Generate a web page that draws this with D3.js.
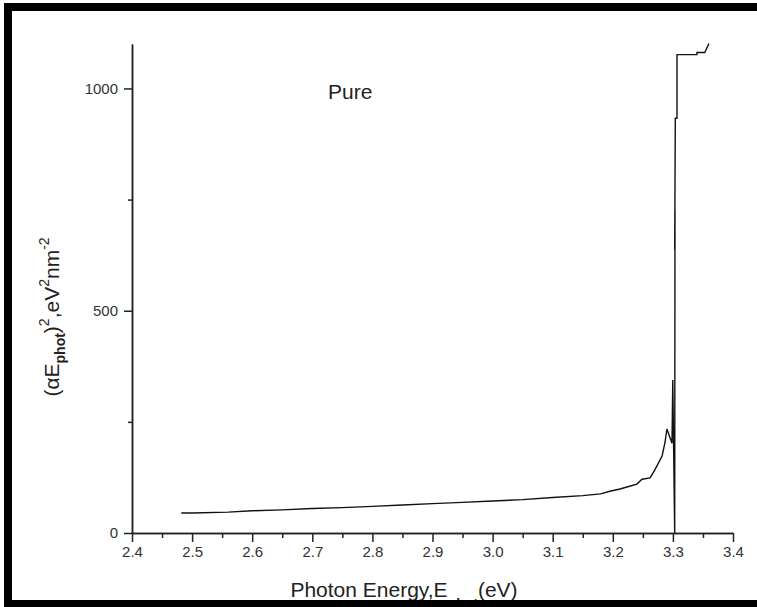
<!DOCTYPE html>
<html>
<head>
<meta charset="UTF-8">
<style>
  body { margin: 0; background: #fff; }
  svg { display: block; font-family: "Liberation Sans", Arial, sans-serif; }
  .axis path, .axis line { stroke: #222; stroke-width: 1.5; }
  .axis text { font-size: 15px; fill: #333; }
  .curve { fill: none; stroke: #111; stroke-width: 1.4; }
</style>
</head>
<body>
<svg id="chart" width="757" height="607"></svg>
<script src="https://d3js.org/d3.v7.min.js"></script>
<script>
// photon energy (eV)
const energy = [2.482, 2.50, 2.56, 2.60, 2.65, 2.70, 2.75, 2.80, 2.85, 2.90, 2.95, 3.00, 3.05, 3.10, 3.15,
  3.18, 3.195, 3.212, 3.225, 3.240, 3.2486, 3.262, 3.270, 3.282, 3.287, 3.290, 3.2985, 3.2998,
  3.3030, 3.3035, 3.3030, 3.3040, 3.3068, 3.3068, 3.340, 3.340, 3.353, 3.360];
// (alpha E)^2
const absorb = [45, 45, 47, 50, 52, 55, 57, 60, 63, 66, 69, 72, 75, 80, 84,
  88, 94, 99, 104, 110, 121, 124, 142, 173, 205, 234, 202, 344,
  0, 728, 638, 933, 933, 1076, 1076, 1081, 1081, 1101];
const xMajor = [2.4, 2.5, 2.6, 2.7, 2.8, 2.9, 3.0, 3.1, 3.2, 3.3, 3.4];
const xMinor = [2.45, 2.55, 2.65, 2.75, 2.85, 2.95, 3.05, 3.15, 3.25, 3.35];
const yMajor = [0, 500, 1000];
const yMinor = [250, 750];

const svg = d3.select('#chart');
const x = d3.scaleLinear().domain([2.4, 3.4]).range([132, 733]);
const y = d3.scaleLinear().domain([0, 1100]).range([533, 44]);

// axes
svg.append('g').attr('class', 'axis').attr('transform', 'translate(0,533)')
  .call(d3.axisBottom(x).tickValues(xMinor).tickSize(5).tickFormat('').tickSizeOuter(0));
svg.append('g').attr('class', 'axis').attr('transform', 'translate(0,533)')
  .call(d3.axisBottom(x).tickValues(xMajor).tickSize(9).tickPadding(4).tickFormat(d3.format('.1f')).tickSizeOuter(0));
svg.append('g').attr('class', 'axis').attr('transform', 'translate(132,0)')
  .call(d3.axisLeft(y).tickValues(yMinor).tickSize(4).tickFormat('').tickSizeOuter(0));
svg.append('g').attr('class', 'axis').attr('transform', 'translate(132,0)')
  .call(d3.axisLeft(y).tickValues(yMajor).tickSize(8).tickPadding(6).tickFormat(d3.format('d')).tickSizeOuter(0));

// curve
const pts = energy.map((e, i) => [e, absorb[i]]);
svg.append('path').attr('class', 'curve')
  .attr('d', d3.line().x(d => x(d[0])).y(d => y(d[1]))(pts));

// labels
svg.append('text').attr('x', 328).attr('y', 99).attr('font-size', 21).attr('fill', '#222').text('Pure');

const xt = svg.append('text').attr('x', 404).attr('y', 597).attr('text-anchor', 'middle')
  .attr('font-size', 21).attr('fill', '#222');
xt.append('tspan').text('Photon Energy,E');
xt.append('tspan').attr('dy', 12).attr('font-size', 14).attr('font-weight', 'bold').text('phot');
xt.append('tspan').attr('dy', -12).text('(eV)');

const yt = svg.append('text').attr('transform', 'translate(59,317) rotate(-90)')
  .attr('text-anchor', 'middle').attr('font-size', 21).attr('fill', '#222');
yt.append('tspan').text('(αE');
yt.append('tspan').attr('dy', 6).attr('font-size', 14).attr('font-weight', 'bold').text('phot');
yt.append('tspan').attr('dy', -6).text(')');
yt.append('tspan').attr('dy', -10).attr('font-size', 14).text('2');
yt.append('tspan').attr('dy', 10).text(',eV');
yt.append('tspan').attr('dy', -10).attr('font-size', 14).text('2');
yt.append('tspan').attr('dy', 10).text('nm');
yt.append('tspan').attr('dy', -10).attr('font-size', 14).text('-2');

// frame (drawn last so it hides the clipped subscript)
svg.append('rect').attr('x', 4).attr('y', 3).attr('width', 753).attr('height', 8).attr('fill', '#000');
svg.append('rect').attr('x', 4).attr('y', 3).attr('width', 8).attr('height', 604).attr('fill', '#000');
svg.append('rect').attr('x', 4).attr('y', 600).attr('width', 753).attr('height', 7).attr('fill', '#000');
</script>
</body>
</html>
